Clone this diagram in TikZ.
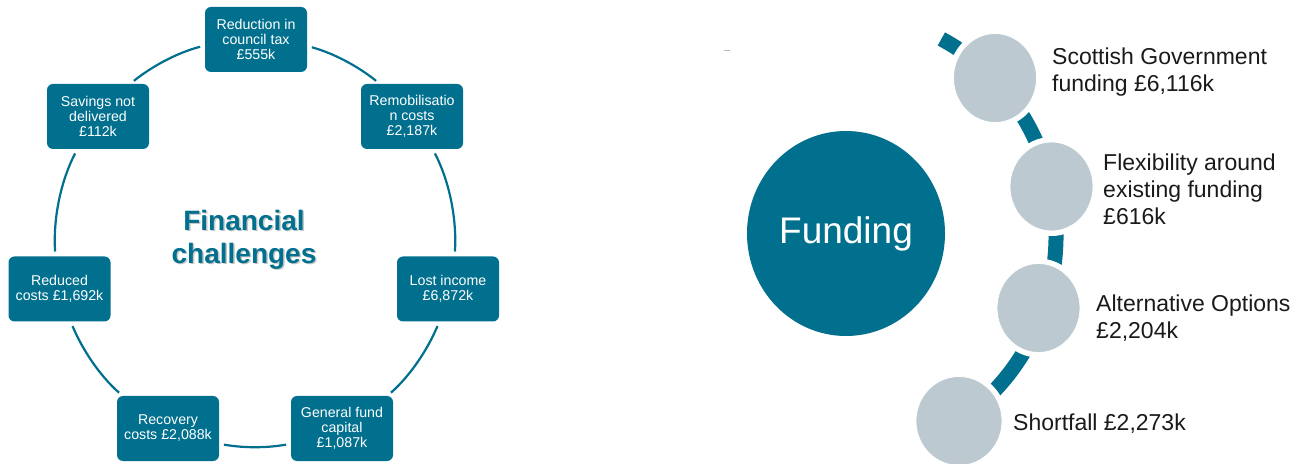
\documentclass[tikz,border=0pt]{standalone}
\usepackage{fontspec}
\setmainfont{Liberation Sans}
\usetikzlibrary{shapes.geometric}
\definecolor{teal1}{RGB}{0,112,142}
\definecolor{dotgrey}{RGB}{188,201,209}
\definecolor{ink}{RGB}{26,26,26}
\definecolor{markgrey}{RGB}{170,188,204}
\begin{document}
\begin{tikzpicture}[x=1pt,y=1pt,
  box/.style={fill=teal1, rounded corners=6pt, minimum width=102pt, minimum height=65pt,
    inner sep=1pt, outer sep=0pt, align=center, text=white,
    font=\fontsize{14.2}{15}\selectfont,
    preaction={draw=white, line width=2pt}},
  ring/.style={draw=teal1, line width=2.2pt, shorten <=5pt, shorten >=5pt, looseness=0.865},
  dotc/.style={ellipse, fill=dotgrey, draw=white, line width=0.8pt, inner sep=0pt, outer sep=0pt,
    minimum width=83pt, minimum height=89pt, preaction={draw=white, line width=10pt}},
  lbl/.style={anchor=west, align=left, text=ink, font=\fontsize{23}{27}\selectfont, inner sep=0pt},
  ttl/.style={align=center, font=\bfseries\fontsize{28}{33}\selectfont, inner sep=0pt}
]
\useasboundingbox (0,0) rectangle (1306,463);
\clip (0,0) rectangle (1306,463);

% ---------- left: financial challenges ----------
\node[box] (R)   at (256,423.5) {Reduction in\\council tax\\£555k};
\node[box] (Rem) at (412,346.5) {Remobilisatio\\n costs\\£2,187k};
\node[box] (Lost) at (448,174) {Lost income\\£6,872k};
\node[box] (GF)  at (342,34.5) {General fund\\capital\\£1,087k};
\node[box] (Rec) at (168,34.5) {Recovery\\costs £2,088k};
\node[box] (Red) at (59.5,174) {Reduced\\costs £1,692k};
\node[box] (Sav) at (98,346.5) {Savings not\\delivered\\£112k};

\draw[ring] ([yshift=-6.5pt]R.east) to[out=-15.1, in=141.2] ([xshift=-32pt]Rem.north);
\draw[ring] ([xshift=20.6pt]Rem.south) to[out=-62.6, in=86.35] ([xshift=6.6pt]Lost.north);
\draw[ring] ([xshift=-8.6pt]Lost.south) to[out=-112.8, in=41.4] ([xshift=45.2pt]GF.north);
\draw[ring] ([yshift=-15.2pt]GF.west) to[out=-169.6, in=-10.4] ([yshift=-15.2pt]Rec.east);
\draw[ring] ([xshift=-45.2pt]Rec.north) to[out=138.6, in=-67.2] ([xshift=11.1pt]Red.south);
\draw[ring] ([xshift=-4.1pt]Red.north) to[out=93.65, in=-117.4] ([xshift=-20.6pt]Sav.south);
\draw[ring] ([xshift=32pt]Sav.north) to[out=38.8, in=194.5] ([yshift=-6pt]R.west);

\node[ttl, text=black, opacity=0.22] (titleshadow) at (245.5,221.8) {Financial\\challenges};
\node[ttl, text=teal1] (title) at (244,223.5) {Financial\\challenges};

% ---------- right: funding ----------
\draw[markgrey, line width=1.2pt] (724,412.5) -- (730,412.5);

\coordinate (bc) at (846,228);
\draw[teal1, line width=15pt] ([shift={(63:210 and 220)}]bc)
  arc[start angle=63, end angle=-63, x radius=210, y radius=220];

\node[ellipse, fill=teal1, inner sep=0pt, minimum width=198pt, minimum height=205pt,
  text=white, font=\fontsize{37}{40}\selectfont] (fund) at (846,229.5) {Funding};

\node[dotc] (s1) at (995,385) {};
\node[dotc] (s2) at (1051.5,276.5) {};
\node[dotc] (s3) at (1038.5,155) {};
\node[dotc, minimum width=86pt] (s4) at (959,42) {};

\node[lbl] (t1) at (1052,390.7) {Scottish Government\\funding £6,116k};
\node[lbl] (t2) at (1103,273.5) {Flexibility around\\existing funding\\£616k};
\node[lbl] (t3) at (1096,145) {Alternative Options\\£2,204k};
\node[lbl] (t4) at (1013,39.5) {Shortfall £2,273k};
\end{tikzpicture}
\end{document}
